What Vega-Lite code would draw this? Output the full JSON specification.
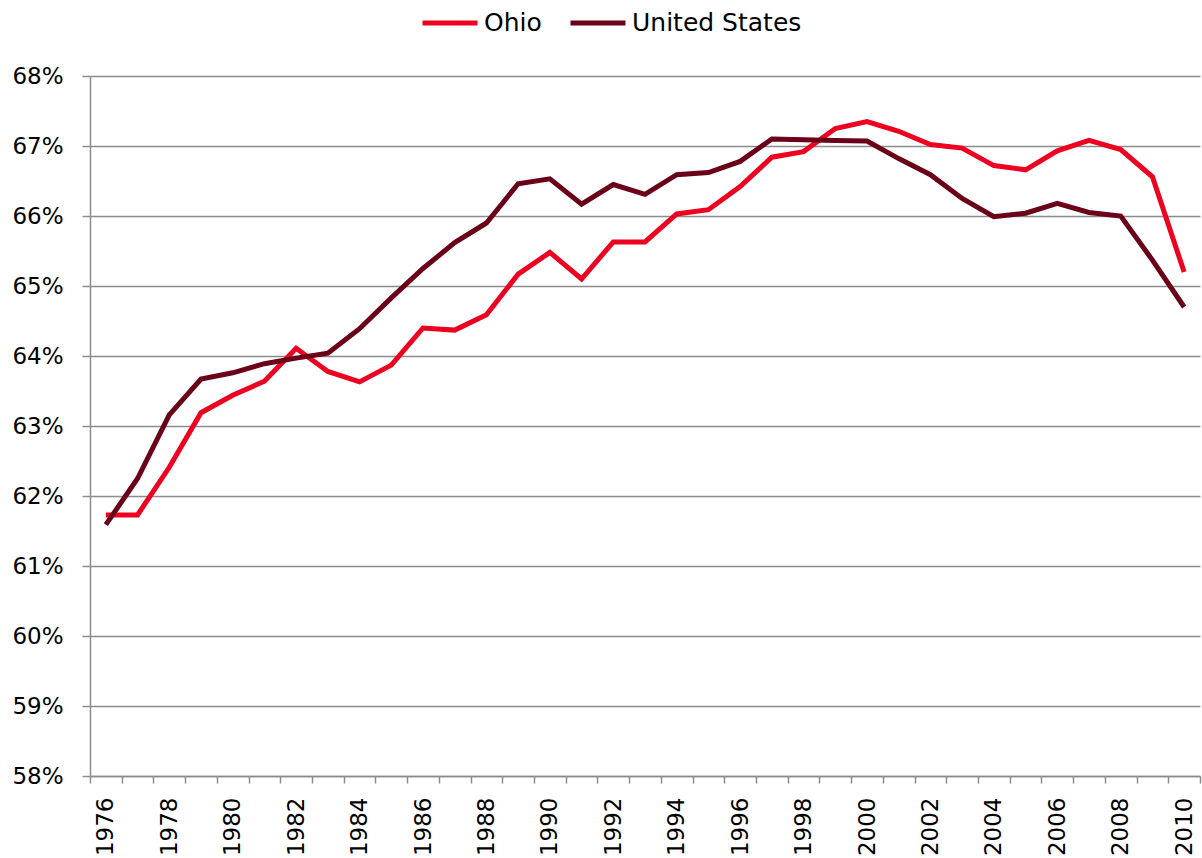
{
  "$schema": "https://vega.github.io/schema/vega-lite/v6.json",
  "width": 1110,
  "height": 700,
  "autosize": {"type": "none"},
  "padding": {"left": 90, "top": 76, "right": 2, "bottom": 82},
  "background": "white",
  "config": {
    "font": "DejaVu Sans",
    "view": {"stroke": null},
    "axis": {"labelFont": "DejaVu Sans", "labelColor": "#000000", "domainColor": "#8c8c8c", "tickColor": "#8c8c8c", "gridColor": "#8c8c8c"}
  },
  "data": {
    "values": [
      {"year": "1976", "series": "Ohio", "rate": 0.6173},
      {"year": "1977", "series": "Ohio", "rate": 0.6173},
      {"year": "1978", "series": "Ohio", "rate": 0.6241},
      {"year": "1979", "series": "Ohio", "rate": 0.6319},
      {"year": "1980", "series": "Ohio", "rate": 0.6344},
      {"year": "1981", "series": "Ohio", "rate": 0.6364},
      {"year": "1982", "series": "Ohio", "rate": 0.6411},
      {"year": "1983", "series": "Ohio", "rate": 0.6378},
      {"year": "1984", "series": "Ohio", "rate": 0.6363},
      {"year": "1985", "series": "Ohio", "rate": 0.6387},
      {"year": "1986", "series": "Ohio", "rate": 0.6440},
      {"year": "1987", "series": "Ohio", "rate": 0.6437},
      {"year": "1988", "series": "Ohio", "rate": 0.6459},
      {"year": "1989", "series": "Ohio", "rate": 0.6517},
      {"year": "1990", "series": "Ohio", "rate": 0.6548},
      {"year": "1991", "series": "Ohio", "rate": 0.6510},
      {"year": "1992", "series": "Ohio", "rate": 0.6563},
      {"year": "1993", "series": "Ohio", "rate": 0.6563},
      {"year": "1994", "series": "Ohio", "rate": 0.6603},
      {"year": "1995", "series": "Ohio", "rate": 0.6609},
      {"year": "1996", "series": "Ohio", "rate": 0.6642},
      {"year": "1997", "series": "Ohio", "rate": 0.6684},
      {"year": "1998", "series": "Ohio", "rate": 0.6692},
      {"year": "1999", "series": "Ohio", "rate": 0.6725},
      {"year": "2000", "series": "Ohio", "rate": 0.6735},
      {"year": "2001", "series": "Ohio", "rate": 0.6721},
      {"year": "2002", "series": "Ohio", "rate": 0.6702},
      {"year": "2003", "series": "Ohio", "rate": 0.6697},
      {"year": "2004", "series": "Ohio", "rate": 0.6672},
      {"year": "2005", "series": "Ohio", "rate": 0.6666},
      {"year": "2006", "series": "Ohio", "rate": 0.6693},
      {"year": "2007", "series": "Ohio", "rate": 0.6708},
      {"year": "2008", "series": "Ohio", "rate": 0.6695},
      {"year": "2009", "series": "Ohio", "rate": 0.6656},
      {"year": "2010", "series": "Ohio", "rate": 0.6520},
      {"year": "1976", "series": "United States", "rate": 0.6159},
      {"year": "1977", "series": "United States", "rate": 0.6225},
      {"year": "1978", "series": "United States", "rate": 0.6316},
      {"year": "1979", "series": "United States", "rate": 0.6367},
      {"year": "1980", "series": "United States", "rate": 0.6376},
      {"year": "1981", "series": "United States", "rate": 0.6389},
      {"year": "1982", "series": "United States", "rate": 0.6397},
      {"year": "1983", "series": "United States", "rate": 0.6404},
      {"year": "1984", "series": "United States", "rate": 0.6439},
      {"year": "1985", "series": "United States", "rate": 0.6483},
      {"year": "1986", "series": "United States", "rate": 0.6525},
      {"year": "1987", "series": "United States", "rate": 0.6562},
      {"year": "1988", "series": "United States", "rate": 0.6590},
      {"year": "1989", "series": "United States", "rate": 0.6646},
      {"year": "1990", "series": "United States", "rate": 0.6653},
      {"year": "1991", "series": "United States", "rate": 0.6617},
      {"year": "1992", "series": "United States", "rate": 0.6645},
      {"year": "1993", "series": "United States", "rate": 0.6631},
      {"year": "1994", "series": "United States", "rate": 0.6659},
      {"year": "1995", "series": "United States", "rate": 0.6662},
      {"year": "1996", "series": "United States", "rate": 0.6678},
      {"year": "1997", "series": "United States", "rate": 0.6710},
      {"year": "1998", "series": "United States", "rate": 0.6709},
      {"year": "1999", "series": "United States", "rate": 0.6708},
      {"year": "2000", "series": "United States", "rate": 0.6707},
      {"year": "2001", "series": "United States", "rate": 0.6682},
      {"year": "2002", "series": "United States", "rate": 0.6659},
      {"year": "2003", "series": "United States", "rate": 0.6625},
      {"year": "2004", "series": "United States", "rate": 0.6599},
      {"year": "2005", "series": "United States", "rate": 0.6604},
      {"year": "2006", "series": "United States", "rate": 0.6618},
      {"year": "2007", "series": "United States", "rate": 0.6605},
      {"year": "2008", "series": "United States", "rate": 0.6600},
      {"year": "2009", "series": "United States", "rate": 0.6537},
      {"year": "2010", "series": "United States", "rate": 0.6470}
    ]
  },
  "mark": {"type": "line", "strokeWidth": 5, "strokeJoin": "miter"},
  "encoding": {
    "x": {
      "field": "year",
      "type": "ordinal",
      "scale": {"paddingInner": 0, "paddingOuter": 0},
      "axis": {
        "title": null,
        "tickBand": "extent",
        "ticks": true,
        "tickSize": 7,
        "tickWidth": 1.5,
        "domainWidth": 1.5,
        "grid": false,
        "labelAngle": -90,
        "labelAlign": "right",
        "labelBaseline": "middle",
        "labelFontSize": 23,
        "labelPadding": 14,
        "labelOverlap": false,
        "labelExpr": "toNumber(datum.value) % 2 == 0 ? datum.value : ''"
      }
    },
    "y": {
      "field": "rate",
      "type": "quantitative",
      "scale": {"domain": [0.58, 0.68], "nice": false, "zero": false},
      "axis": {
        "title": null,
        "format": ".0%",
        "values": [0.58, 0.59, 0.60, 0.61, 0.62, 0.63, 0.64, 0.65, 0.66, 0.67, 0.68],
        "grid": true,
        "gridWidth": 1.5,
        "domainWidth": 1.5,
        "tickWidth": 1.5,
        "tickSize": 8,
        "labelFontSize": 23,
        "labelPadding": 19,
        "labelOverlap": false
      }
    },
    "color": {
      "field": "series",
      "type": "nominal",
      "scale": {"domain": ["Ohio", "United States"], "range": ["#EE0020", "#6B0019"]},
      "legend": {
        "title": null,
        "orient": "none",
        "direction": "horizontal",
        "legendX": 330,
        "legendY": -83,
        "symbolType": "stroke",
        "symbolSize": 3025,
        "symbolStrokeWidth": 5,
        "labelFontSize": 25,
        "labelFont": "DejaVu Sans",
        "labelColor": "#000000",
        "labelOffset": 4,
        "labelLimit": 400,
        "columnPadding": 18
      }
    }
  }
}
